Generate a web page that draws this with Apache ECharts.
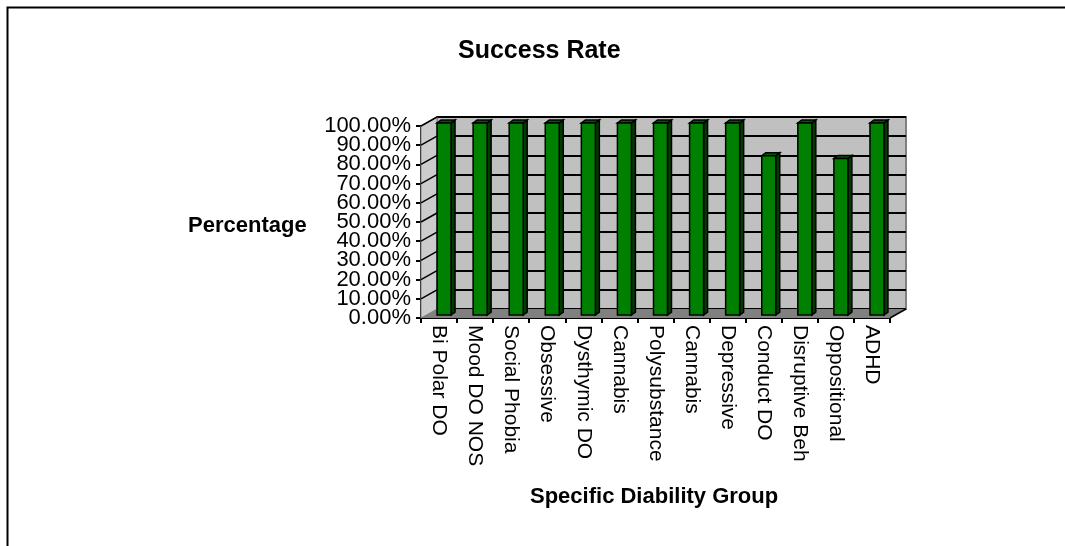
<!DOCTYPE html>
<html>
<head>
<meta charset="utf-8">
<script src="https://cdn.jsdelivr.net/npm/echarts@6/dist/echarts.min.js"></script>
<style>
html,body{margin:0;padding:0;background:#fff;}
#c{width:1065px;height:546px;}
</style>
</head>
<body>
<div id="c"></div>
<script>
var categories = ['Bi Polar DO','Mood DO NOS','Social Phobia','Obsessive','Dysthymic DO','Cannabis','Polysubstance','Cannabis','Depressive','Conduct DO','Disruptive Beh','Oppositional','ADHD'];
var successRate = [100,100,100,100,100,100,100,100,100,83,100,81.5,100];
var yTicks = [0,10,20,30,40,50,60,70,80,90,100];

var FONT = '"Liberation Sans", Arial, sans-serif';
var DX = 16, DY = -9; // depth of the 3D box

var chart = echarts.init(document.getElementById('c'), null, {renderer:'canvas'});

function wallItem(params, api) {
  var cs = params.coordSys;
  var x0 = cs.x, x1 = cs.x + cs.width, yt = cs.y, yb = cs.y + cs.height;
  var children = [];
  children.push({type:'polygon', shape:{points:[[x0,yb],[x1,yb],[x1+DX,yb+DY],[x0+DX,yb+DY]]},
    style:{fill:'#808080', stroke:null}});
  children.push({type:'polygon', shape:{points:[[x0,yb],[x0+DX,yb+DY],[x0+DX,yt+DY],[x0,yt]]},
    style:{fill:'#cccccc', stroke:'#808080', lineWidth:1}});
  for (var i = 1; i < yTicks.length; i++) {
    var p = api.coord([0, yTicks[i]]);
    children.push({type:'line', shape:{x1:x0, y1:p[1], x2:x0+DX, y2:p[1]+DY},
      style:{stroke:'#000', lineWidth:1.5}});
  }
  children.push({type:'line', shape:{x1:x1, y1:yb, x2:x1+DX, y2:yb+DY},
    style:{stroke:'#000', lineWidth:1.5}});
  return {type:'group', children:children};
}

function yLabelItem(params, api) {
  var v = api.value(1);
  var p = api.coord([0, v]);
  return {type:'text', x: params.coordSys.x - 10, y: p[1],
    style:{text: v.toFixed(2) + '%', fill:'#000', font: '22px ' + FONT,
      textAlign:'right', textVerticalAlign:'middle', align:'right', verticalAlign:'middle'}};
}

function barItem(params, api) {
  var idx = api.value(0), v = api.value(1);
  var top = api.coord([idx, v]);
  var bot = api.coord([idx, 0]);
  var bw = 14, dx = 5, dy = -3, sx = 4, sy = -3;
  var xl = top[0] - bw/2 + dx, xr = xl + bw;
  var yt = top[1] + dy, yb = bot[1] + dy;
  return {type:'group', children:[
    {type:'polygon', shape:{points:[[xr,yt],[xr+sx,yt+sy],[xr+sx,yb+sy],[xr,yb]]},
      style:{fill:'#003c00', stroke:'#000', lineWidth:1.5}},
    {type:'polygon', shape:{points:[[xl,yt],[xr,yt],[xr+sx,yt+sy],[xl+sx,yt+sy]]},
      style:{fill:'#005800', stroke:'#000', lineWidth:1.5}},
    {type:'rect', shape:{x:xl, y:yt, width:bw, height:yb-yt},
      style:{fill:'#008000', stroke:'#000', lineWidth:1.5}}
  ]};
}

var option = {
  animation:false,
  backgroundColor:'#ffffff',
  textStyle:{fontFamily:FONT},
  title:[
    {text:'Success Rate', left:453, top:34,
      textStyle:{fontFamily:FONT, fontSize:25, fontWeight:'bold', color:'#000'}},
    {text:'Percentage', left:183, top:210,
      textStyle:{fontFamily:FONT, fontSize:22, fontWeight:'bold', color:'#000'}},
    {text:'Specific Diability Group', left:525, top:481,
      textStyle:{fontFamily:FONT, fontSize:22, fontWeight:'bold', color:'#000'}}
  ],
  graphic:[
    {type:'polyline', shape:{points:[[7.5,546],[7.5,7.5],[1065,7.5]]},
      style:{stroke:'#000', lineWidth:2, fill:null}, silent:true}
  ],
  grid:[
    {left:421+DX, top:126+DY, width:469, height:192, show:true,
      backgroundColor:'#c0c0c0', borderColor:'#808080', borderWidth:2},
    {left:421, top:126, width:469, height:192}
  ],
  xAxis:[
    {gridIndex:0, type:'category', data:categories, show:false},
    {gridIndex:1, type:'category', data:categories,
      axisLine:{show:true, lineStyle:{color:'#000', width:2}},
      axisTick:{show:true, length:5, inside:false, alignWithLabel:false, lineStyle:{color:'#000', width:2}},
      axisLabel:{interval:0, rotate:-90, margin:7, color:'#000', fontFamily:FONT, fontSize:21, hideOverlap:false}}
  ],
  yAxis:[
    {gridIndex:0, type:'value', min:0, max:100, interval:10,
      axisLine:{show:false}, axisTick:{show:false}, axisLabel:{show:false},
      splitLine:{show:true, lineStyle:{color:'#000', width:2}}},
    {gridIndex:1, type:'value', min:0, max:100, interval:10,
      axisLine:{show:true, lineStyle:{color:'#000', width:2}},
      axisTick:{show:true, length:5, lineStyle:{color:'#000', width:2}},
      splitLine:{show:false},
      axisLabel:{show:false}}
  ],
  series:[
    {type:'custom', name:'walls', xAxisIndex:1, yAxisIndex:1, z:1,
      renderItem:wallItem, data:[[0,0]], silent:true},
    {type:'custom', name:'yLabels', xAxisIndex:1, yAxisIndex:1, z:3, silent:true,
      renderItem:yLabelItem, data:yTicks.map(function(v){return [0,v];})},
    {type:'custom', name:'Success Rate', xAxisIndex:1, yAxisIndex:1, z:5,
      renderItem:barItem,
      data:successRate.map(function(v,i){return [i,v];})}
  ]
};
chart.setOption(option);
</script>
</body>
</html>
